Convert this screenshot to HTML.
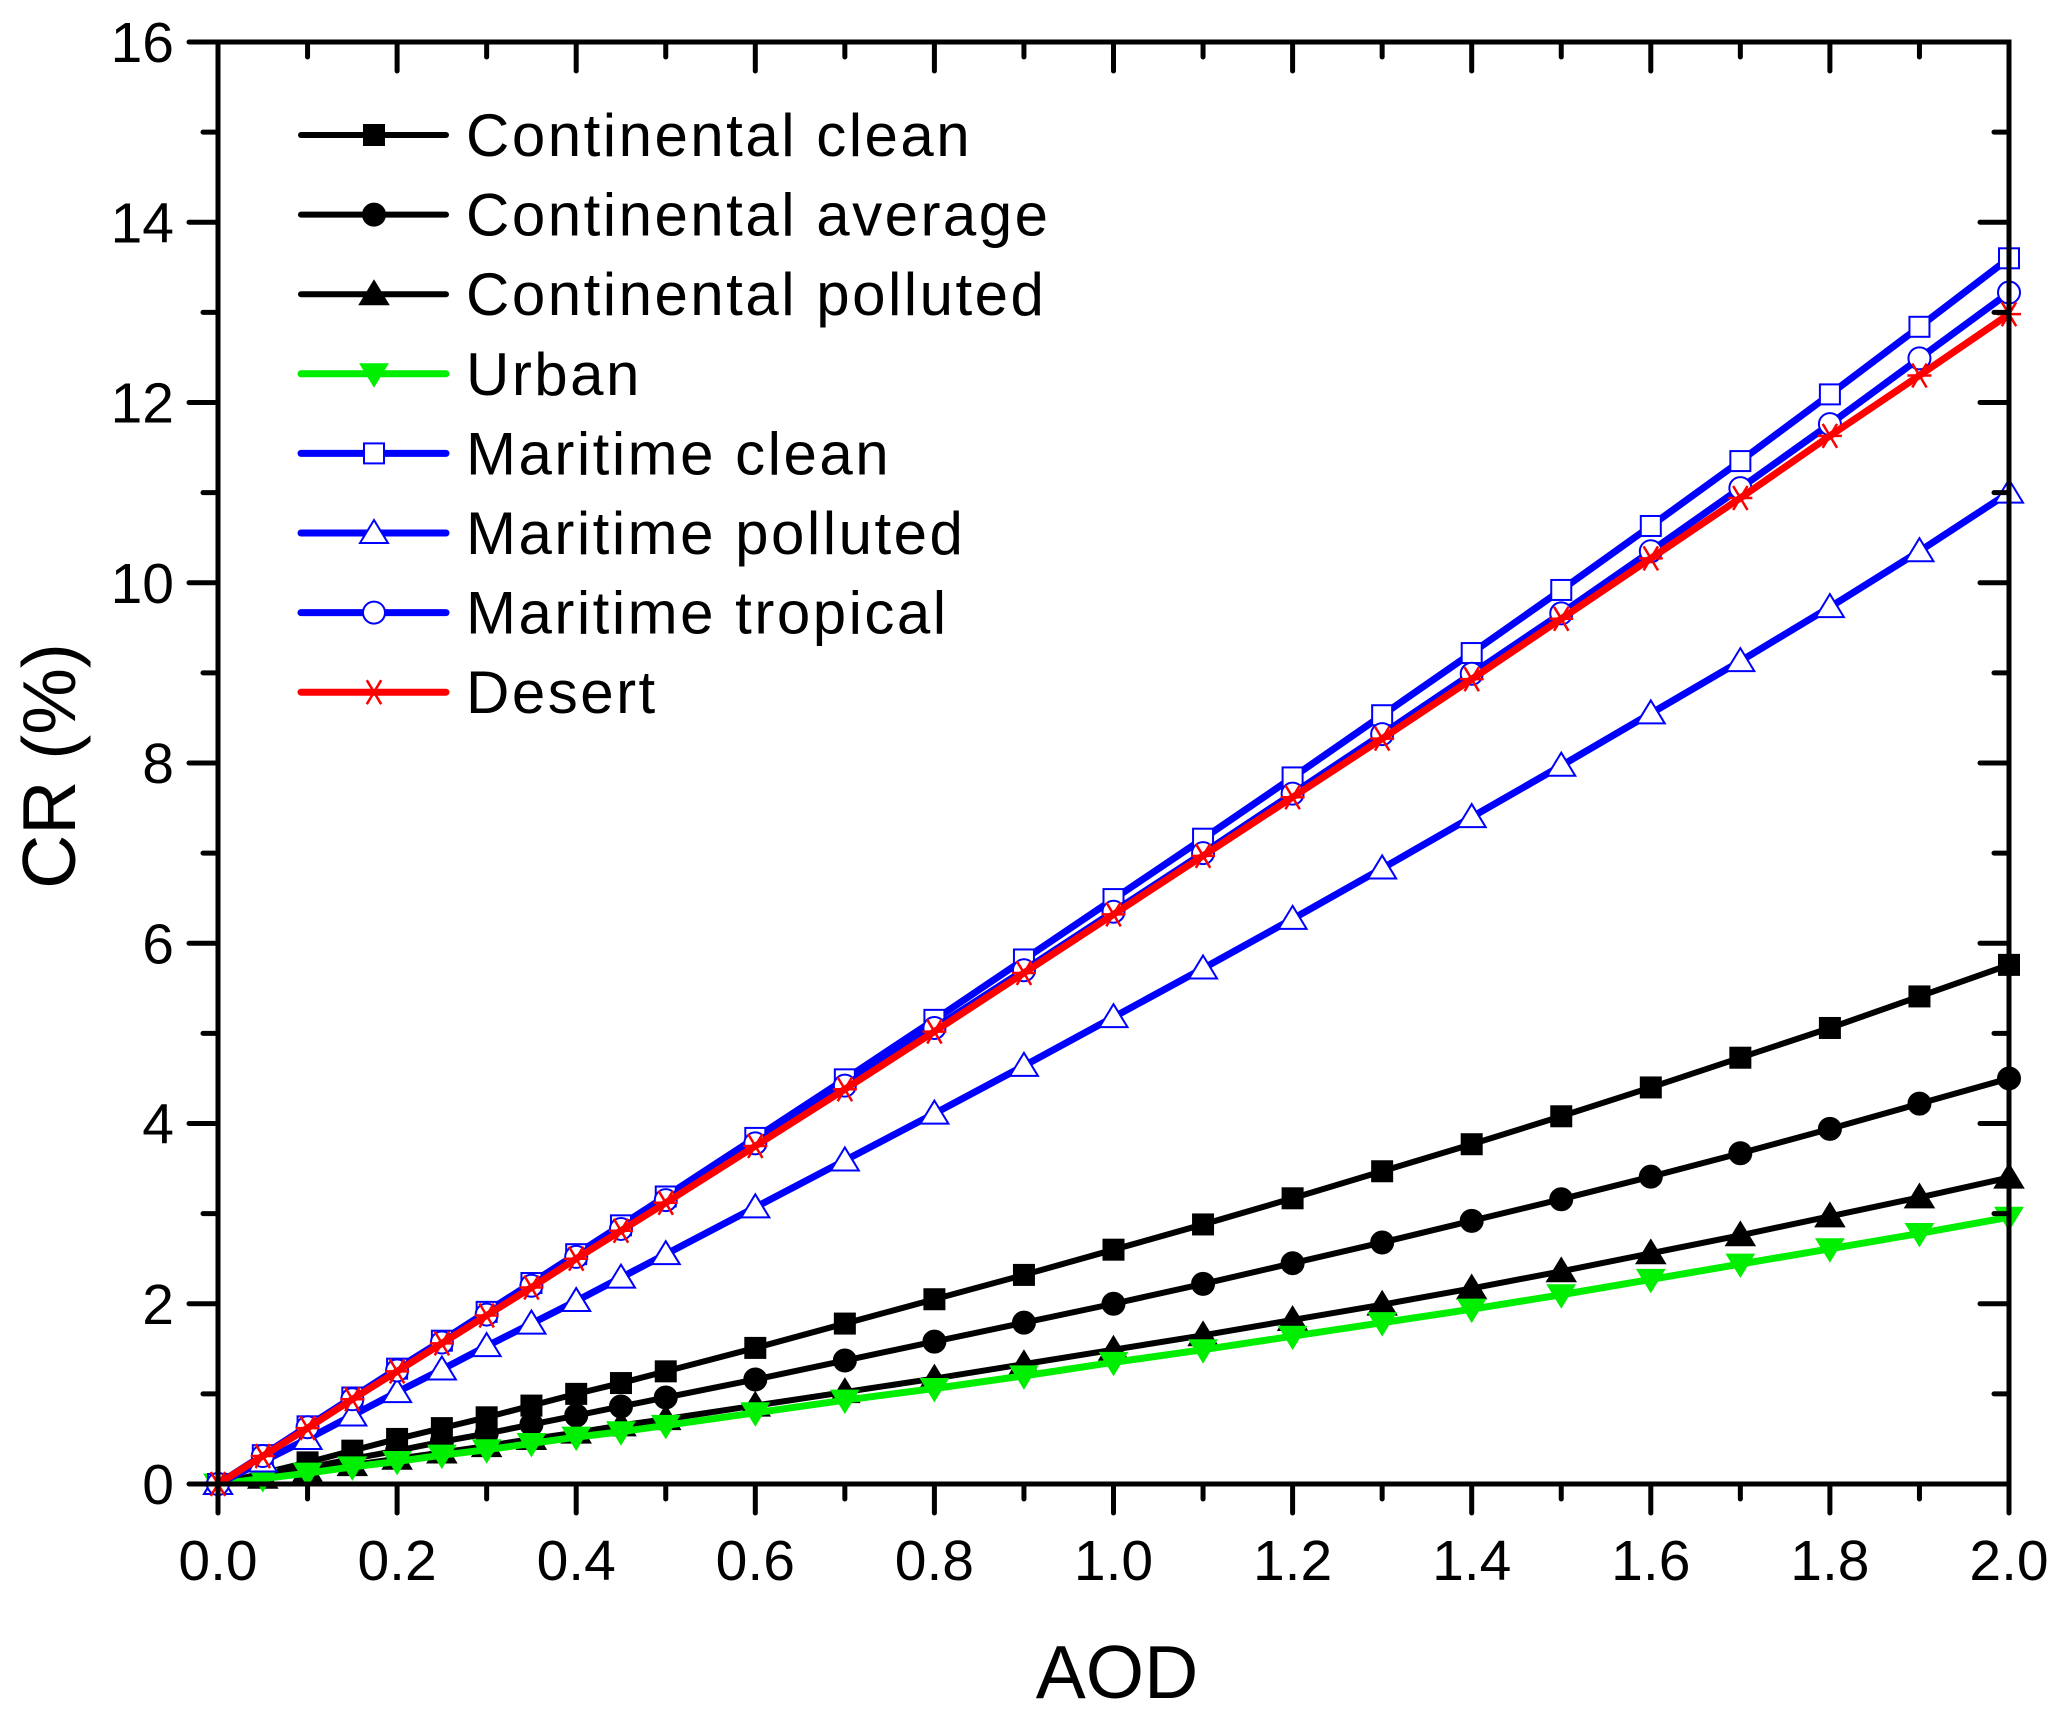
<!DOCTYPE html>
<html><head><meta charset="utf-8"><style>
html,body{margin:0;padding:0;background:#fff}
svg text{font-family:"Liberation Sans",Arial,sans-serif}
</style></head><body>
<svg id="chart" width="2067" height="1714" viewBox="0 0 2067 1714" xmlns="http://www.w3.org/2000/svg">
<rect width="2067" height="1714" fill="#fff"/>
<g id="series"></g>
<g id="axes"></g>
<g id="legend"></g>
</svg>
<script>
const aod = [0,0.05,0.1,0.15,0.2,0.25,0.3,0.35,0.4,0.45,0.5,0.6,0.7,0.8,0.9,1.0,1.1,1.2,1.3,1.4,1.5,1.6,1.7,1.8,1.9,2.0];
const contClean = [0,0.12,0.24,0.37,0.5,0.62,0.74,0.87,1.0,1.12,1.25,1.51,1.78,2.05,2.32,2.6,2.88,3.17,3.47,3.77,4.08,4.4,4.73,5.06,5.41,5.76];
const contAvg = [0,0.09,0.18,0.28,0.37,0.47,0.56,0.66,0.76,0.86,0.96,1.16,1.37,1.58,1.79,2.0,2.22,2.45,2.68,2.92,3.16,3.41,3.67,3.94,4.22,4.5];
const contPoll = [0,0.07,0.14,0.21,0.28,0.35,0.42,0.5,0.57,0.65,0.72,0.87,1.02,1.17,1.33,1.49,1.65,1.82,1.99,2.17,2.36,2.56,2.76,2.97,3.18,3.4];
const urban = [0,0.06,0.12,0.19,0.25,0.32,0.38,0.45,0.52,0.58,0.65,0.79,0.93,1.06,1.2,1.35,1.49,1.64,1.79,1.94,2.1,2.27,2.44,2.61,2.78,2.96];
const marClean = [0,0.32,0.64,0.96,1.28,1.59,1.91,2.23,2.55,2.87,3.19,3.84,4.49,5.15,5.82,6.49,7.16,7.84,8.53,9.22,9.92,10.63,11.35,12.09,12.84,13.6];
const marPoll = [0,0.25,0.5,0.76,1.02,1.27,1.53,1.78,2.03,2.29,2.55,3.07,3.59,4.11,4.64,5.18,5.72,6.27,6.83,7.4,7.97,8.55,9.13,9.73,10.35,11.0];
const marTrop = [0,0.31,0.63,0.94,1.26,1.57,1.88,2.2,2.52,2.83,3.15,3.78,4.42,5.06,5.7,6.35,7.0,7.66,8.32,8.99,9.66,10.35,11.05,11.76,12.49,13.22];
const desert = [0,0.31,0.62,0.94,1.25,1.56,1.87,2.18,2.5,2.81,3.12,3.75,4.38,5.02,5.67,6.32,6.97,7.62,8.27,8.93,9.6,10.27,10.94,11.63,12.3,12.98];
const xTicks = [0,0.2,0.4,0.6,0.8,1.0,1.2,1.4,1.6,1.8,2.0];
const xTickLabels = ["0.0","0.2","0.4","0.6","0.8","1.0","1.2","1.4","1.6","1.8","2.0"];
const yTicks = [0,2,4,6,8,10,12,14,16];
const yTickLabels = ["0","2","4","6","8","10","12","14","16"];

const X0=218,X1=2009,Y0=1484,Y1=42;
const sx=v=>X0+(v-0)/(2-0)*(X1-X0);
const sy=v=>Y0-(v-0)/(16-0)*(Y0-Y1);
const NS="http://www.w3.org/2000/svg";
function mk(tag,attrs,parent){const e=document.createElementNS(NS,tag);for(const k in attrs)e.setAttribute(k,attrs[k]);parent.appendChild(e);return e;}

function marker(type,color,cx,cy,g){
  const r=10;let e;
  if(type==='fsq'||type==='osq'){e=mk('rect',{x:cx-r,y:cy-r,width:2*r,height:2*r,fill:type==='fsq'?color:'#fff',stroke:color,'stroke-width':2},g);}
  else if(type==='fci'||type==='oci'){e=mk('circle',{cx:cx,cy:cy,r:r+1,fill:type==='fci'?color:'#fff',stroke:color,'stroke-width':2},g);}
  else if(type==='ftri'||type==='otri'){e=mk('polygon',{points:`${cx},${cy-r-3} ${cx+r+4},${cy+r} ${cx-r-4},${cy+r}`,fill:type==='ftri'?color:'#fff',stroke:color,'stroke-width':2},g);}
  else if(type==='dtri'){e=mk('polygon',{points:`${cx-r-4},${cy-r} ${cx+r+4},${cy-r} ${cx},${cy+r+3}`,fill:color,stroke:color,'stroke-width':1},g);}
  else if(type==='star'){const q=r+2;e=mk('path',{d:`M${cx-q},${cy}H${cx+q}M${cx-q*0.6},${cy-q}L${cx+q*0.6},${cy+q}M${cx+q*0.6},${cy-q}L${cx-q*0.6},${cy+q}`,stroke:color,'stroke-width':2.5,fill:'none'},g);}
  return e;
}

const series=[
 {name:"Continental clean",data:contClean,color:"#000",m:"fsq",w:6,id:"continental-clean"},
 {name:"Continental average",data:contAvg,color:"#000",m:"fci",w:6,id:"continental-average"},
 {name:"Continental polluted",data:contPoll,color:"#000",m:"ftri",w:6,id:"continental-polluted"},
 {name:"Urban",data:urban,color:"#00ee00",m:"dtri",w:7,id:"urban"},
 {name:"Maritime clean",data:marClean,color:"#0000ff",m:"osq",w:7,id:"maritime-clean"},
 {name:"Maritime polluted",data:marPoll,color:"#0000ff",m:"otri",w:7,id:"maritime-polluted"},
 {name:"Maritime tropical",data:marTrop,color:"#0000ff",m:"oci",w:7,id:"maritime-tropical"},
 {name:"Desert",data:desert,color:"#ff0000",m:"star",w:7,id:"desert"}
];
const sg=document.getElementById('series');
series.forEach(s=>{
  const g=mk('g',{},sg);
  
  
  const pl=mk('polyline',{points:aod.map((x,i)=>sx(x)+','+sy(s.data[i])).join(' '),fill:'none',stroke:s.color,'stroke-width':s.w,'stroke-linejoin':'round'},g);
  
  
  aod.forEach((x,i)=>{const e=marker(s.m,s.color,sx(x),sy(s.data[i]),g);
    
    });
});

const ag=document.getElementById('axes');
const frame=mk('rect',{x:X0,y:Y1,width:X1-X0,height:Y0-Y1,fill:'none',stroke:'#000','stroke-width':5},ag);


let p='';
xTicks.forEach(v=>{const x=sx(v);p+=`M${x},${Y0}V${Y0+29}M${x},${Y1}V${Y1+29}`;});
for(let i=0;i<xTicks.length-1;i++){const x=sx((xTicks[i]+xTicks[i+1])/2);p+=`M${x},${Y0}V${Y0+15}M${x},${Y1}V${Y1+15}`;}
yTicks.forEach(v=>{const y=sy(v);p+=`M${X0},${y}H${X0-29}M${X1},${y}H${X1-29}`;});
for(let i=0;i<yTicks.length-1;i++){const y=sy((yTicks[i]+yTicks[i+1])/2);p+=`M${X0},${y}H${X0-15}M${X1},${y}H${X1-15}`;}
const tk=mk('path',{d:p,stroke:'#000','stroke-width':5,'stroke-linecap':'round',fill:'none'},ag);


xTicks.forEach((v,i)=>{const t=mk('text',{x:sx(v),y:1580,'font-size':57,'text-anchor':'middle'},ag);t.textContent=xTickLabels[i];
  
  });
yTicks.forEach((v,i)=>{const t=mk('text',{x:X0-44,y:sy(v)+20,'font-size':57,'text-anchor':'end'},ag);t.textContent=yTickLabels[i];
  
  });
const xt=mk('text',{x:1117,y:1698,'font-size':75,'text-anchor':'middle'},ag);xt.textContent='AOD';


const yt=mk('text',{x:0,y:0,'font-size':75,'text-anchor':'middle',transform:'translate(75,766) rotate(-90)'},ag);yt.textContent='CR (%)';



const lg=document.getElementById('legend');


series.forEach((s,i)=>{
  const y=135+i*79.6;
  const g=mk('g',{},lg);
  
  
  mk('line',{x1:301,y1:y,x2:446,y2:y,stroke:s.color,'stroke-width':s.w,'stroke-linecap':'round'},g);
  marker(s.m,s.color,374,y,g);
  const t=mk('text',{x:466,y:y+21,'font-size':60,'letter-spacing':2.5},g);t.textContent=s.name;
});
</script>
</body></html>
